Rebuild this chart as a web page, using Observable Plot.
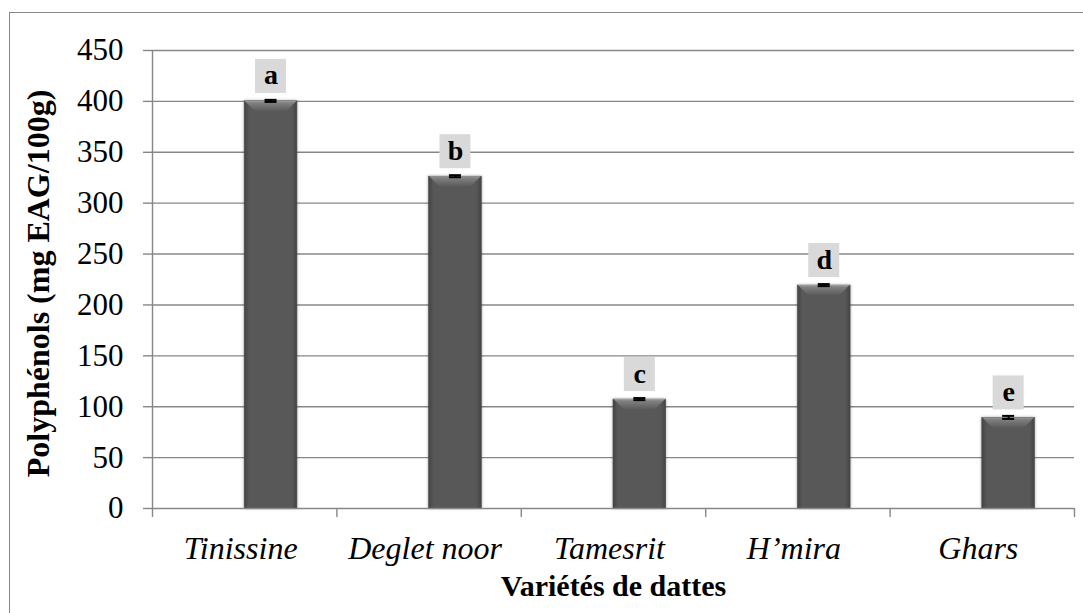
<!DOCTYPE html>
<html>
<head>
<meta charset="utf-8">
<script src="https://cdn.jsdelivr.net/npm/d3@7"></script>
<script src="https://cdn.jsdelivr.net/npm/@observablehq/plot@0.6"></script>
<style>
  html, body { margin: 0; padding: 0; background: #fff; overflow: hidden; }
  #wrap { position: relative; width: 1083px; height: 613px; overflow: hidden; }
  #frame { position: absolute; left: 9px; top: 12px; width: 1110px; height: 640px;
           border: 1.5px solid #888; box-sizing: border-box; }
  #chart { position: absolute; left: 0; top: 0; }
</style>
</head>
<body>
<div id="wrap"><div id="frame"></div><div id="chart"></div></div>
<script>
// Total polyphenol content of five date varieties (mg GAE / 100 g), with SD and
// significance-group letters.
const varieties = ["Tinissine", "Deglet noor", "Tamesrit", "H’mira", "Ghars"];
const polyphenols = [400, 326, 107, 219, 89];
const deviations = [1, 1, 1, 1, 1.5];
const groups = ["a", "b", "c", "d", "e"];
const yTicks = [0, 50, 100, 150, 200, 250, 300, 350, 400, 450];

const yTitle = "Polyphénols (mg EAG/100g)";
const xTitle = "Variétés de dattes";

// Clustered-column geometry: two series per category, the data sits in the
// second one; gap width is 150 % of a column.
const gapWidth = 1.5, seriesCount = 2, seriesIndex = 1;
const colUnit = 1 / (seriesCount + gapWidth);

const rows = varieties.map((v, i) => {
  const x1 = i + (gapWidth / 2 + seriesIndex) * colUnit;
  return {
    variety: v, value: polyphenols[i], sd: deviations[i], group: groups[i],
    x1, x2: x1 + colUnit, xc: x1 + colUnit / 2
  };
});
const boundaries = d3.range(varieties.length + 1);
const centers = varieties.map((_, i) => i + 0.5);

const gray = "#878787";
const serif = "'Liberation Serif', 'Times New Roman', serif";
const bevel = 10; // bevel depth of the column tops, px

// Gradients and soft shadow for the bevelled columns.
function defs() {
  const g = document.createElementNS("http://www.w3.org/2000/svg", "defs");
  g.innerHTML = `
    <linearGradient id="colBody" x1="0" x2="1" y1="0" y2="0">
      <stop offset="0" stop-color="#444"/>
      <stop offset="0.1" stop-color="#595959"/>
      <stop offset="0.9" stop-color="#595959"/>
      <stop offset="1" stop-color="#444"/>
    </linearGradient>
    <linearGradient id="colTop" x1="0" x2="0" y1="0" y2="1">
      <stop offset="0" stop-color="#a0a0a0"/>
      <stop offset="0.2" stop-color="#808080"/>
      <stop offset="1" stop-color="#5c5c5c"/>
    </linearGradient>
    <filter id="colShadow" x="-30%" y="-5%" width="160%" height="110%">
      <feDropShadow dx="0" dy="0" stdDeviation="1.8" flood-color="#000" flood-opacity="0.35"/>
    </filter>`;
  return g;
}

// Turns each rect of a mark into a trapezoid (wide edge on top).
function trapezoid(index, scales, values, dims, context, next) {
  const g = next(index, scales, values, dims, context);
  g.querySelectorAll("rect").forEach(r => {
    const x = +r.getAttribute("x"), y = +r.getAttribute("y");
    const w = +r.getAttribute("width"), h = +r.getAttribute("height");
    const p = document.createElementNS("http://www.w3.org/2000/svg", "path");
    p.setAttribute("d", `M${x},${y}H${x + w}L${x + w - h},${y + h}H${x + h}Z`);
    r.replaceWith(p);
  });
  return g;
}

const chart = Plot.plot({
  width: 1083,
  height: 613,
  marginLeft: 152,
  marginRight: 9,
  marginTop: 50,
  marginBottom: 105,
  style: { fontFamily: serif, fontSize: "31px", color: "black", background: "transparent" },
  x: { domain: [0, varieties.length], axis: null },
  y: { domain: [0, 450], axis: null },
  marks: [
    defs,
    Plot.gridY(yTicks.slice(1), { stroke: gray, strokeOpacity: 1, strokeWidth: 1.4 }),
    Plot.axisY({
      ticks: yTicks, tickSize: 9, tickPadding: 20, stroke: gray, strokeWidth: 1.4,
      fill: "black", fontSize: 31, label: null
    }),
    Plot.axisX({
      ticks: boundaries, tickSize: 9, tickFormat: () => "", stroke: gray, strokeWidth: 1.4, label: null
    }),
    Plot.axisX({
      ticks: centers, tickSize: 0, tickPadding: 28, dx: -4,
      tickFormat: d => varieties[Math.floor(d)],
      fill: "black", fontSize: 32, fontStyle: "italic", label: null
    }),
    // columns
    Plot.rectY(rows, {
      x1: "x1", x2: "x2", y: "value", fill: "url(#colBody)",
      stroke: "#4a4a4a", strokeWidth: 0.6
    }),
    // top bevel of each column
    Plot.rect(rows, {
      x1: "x1", x2: "x2", y1: "value", y2: "value",
      insetTop: 0, insetBottom: -bevel, insetLeft: 0.5, insetRight: 0.5,
      fill: "url(#colTop)", render: trapezoid
    }),
    Plot.ruleX([0], { stroke: gray, strokeWidth: 1.4 }),
    Plot.ruleY([0], { stroke: gray, strokeWidth: 1.4 }),
    // error bars
    Plot.link(rows, {
      x1: "xc", x2: "xc", y1: d => d.value - d.sd, y2: d => d.value + d.sd,
      stroke: "black", strokeWidth: 2
    }),
    Plot.rect(rows, {
      x1: "xc", x2: "xc", y1: d => d.value + d.sd, y2: d => d.value + d.sd,
      insetLeft: -6, insetRight: -6, insetTop: -1, insetBottom: -1, fill: "black"
    }),
    Plot.rect(rows, {
      x1: "xc", x2: "xc", y1: d => d.value - d.sd, y2: d => d.value - d.sd,
      insetLeft: -6, insetRight: -6, insetTop: -1, insetBottom: -1, fill: "black"
    }),
    // significance letters in grey boxes
    Plot.rect(rows, {
      x1: "xc", x2: "xc", y1: "value", y2: "value",
      insetLeft: -15.5, insetRight: -15.5, insetTop: -42, insetBottom: 8, fill: "#d9d9d9"
    }),
    Plot.text(rows, {
      x: "xc", y: "value", text: "group", dy: -26, fontSize: 28, fontWeight: "bold",
      fill: "black", lineAnchor: "middle"
    }),
    // axis titles
    Plot.text([yTitle], {
      frameAnchor: "left", dx: -114, dy: 4, rotate: -90, fontSize: 32, fontWeight: "bold",
      fill: "black", textAnchor: "middle", lineAnchor: "middle"
    }),
    Plot.text([xTitle], {
      frameAnchor: "bottom", dy: 78, fontSize: 30, fontWeight: "bold",
      fill: "black", textAnchor: "middle", lineAnchor: "middle"
    })
  ]
});

// soft shadow behind the columns
const colGroup = chart.querySelector("g[aria-label='rect']");
if (colGroup) colGroup.setAttribute("filter", "url(#colShadow)");
document.getElementById("chart").appendChild(chart);
</script>
</body>
</html>
